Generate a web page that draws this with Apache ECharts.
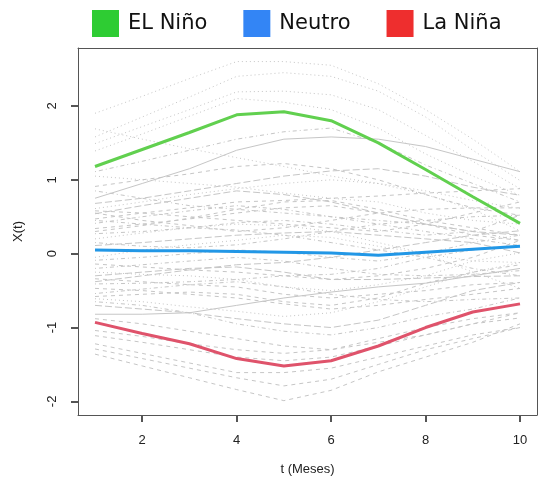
<!DOCTYPE html>
<html>
<head>
<meta charset="utf-8">
<script src="https://cdn.jsdelivr.net/npm/echarts@6/dist/echarts.min.js"></script>
<style>
  html, body { margin: 0; padding: 0; background: #fff; }
  #chart { width: 539px; height: 482px; }
</style>
</head>
<body>
<div id="chart"></div>
<script>
// Meses observados
const tiempo = [1, 2, 3, 4, 5, 6, 7, 8, 9, 10];

// Trayectorias medias por fase ENSO
const nino   = [1.18, 1.41, 1.64, 1.88, 1.92, 1.80, 1.50, 1.14, 0.77, 0.41];
const neutro = [0.05, 0.04, 0.04, 0.03, 0.02, 0.01, -0.02, 0.02, 0.06, 0.10];
const nina   = [-0.93, -1.08, -1.22, -1.42, -1.52, -1.45, -1.25, -1.00, -0.79, -0.68];

// Trayectorias individuales (fondo gris)
const trayectorias = [
  [1.90, 2.13, 2.37, 2.60, 2.60, 2.55, 2.30, 1.95, 1.55, 1.11],
  [1.58, 1.85, 2.12, 2.40, 2.45, 2.40, 2.20, 1.85, 1.40, 0.99],
  [1.49, 1.72, 1.95, 2.19, 2.20, 2.15, 1.95, 1.60, 1.25, 0.88],
  [1.39, 1.62, 1.86, 2.10, 2.05, 1.95, 1.70, 1.35, 1.05, 0.79],
  [1.69, 1.55, 1.42, 1.30, 1.18, 1.05, 0.95, 0.85, 0.72, 0.61],
  [1.11, 1.25, 1.40, 1.55, 1.65, 1.70, 1.50, 1.20, 0.95, 0.70],
  [0.91, 1.00, 1.08, 1.18, 1.22, 1.15, 1.00, 0.80, 0.62, 0.52],
  [0.75, 0.95, 1.15, 1.40, 1.55, 1.58, 1.55, 1.45, 1.28, 1.11],
  [0.61, 0.70, 0.80, 0.88, 0.95, 1.00, 0.95, 0.80, 0.60, 0.31],
  [0.54, 0.65, 0.75, 0.85, 0.80, 0.70, 0.55, 0.40, 0.30, 0.25],
  [0.47, 0.55, 0.62, 0.70, 0.72, 0.75, 0.78, 0.82, 0.85, 0.88],
  [0.41, 0.50, 0.58, 0.65, 0.60, 0.50, 0.40, 0.30, 0.20, 0.11],
  [0.34, 0.40, 0.47, 0.55, 0.62, 0.65, 0.55, 0.40, 0.25, 0.18],
  [0.27, 0.30, 0.35, 0.42, 0.45, 0.40, 0.32, 0.25, 0.30, 0.52],
  [0.20, 0.28, 0.35, 0.40, 0.38, 0.30, 0.15, 0.00, -0.10, -0.12],
  [0.11, 0.15, 0.20, 0.25, 0.28, 0.30, 0.25, 0.20, 0.15, 0.01],
  [0.58, 0.55, 0.50, 0.45, 0.40, 0.35, 0.30, 0.40, 0.55, 0.70],
  [-0.09, -0.05, 0.00, 0.05, 0.02, -0.05, -0.10, 0.00, 0.15, 0.25],
  [-0.14, -0.18, -0.22, -0.25, -0.30, -0.35, -0.30, -0.20, -0.05, 0.18],
  [-0.20, -0.15, -0.10, -0.05, -0.10, -0.20, -0.28, -0.30, -0.28, -0.23],
  [-0.25, -0.28, -0.30, -0.35, -0.45, -0.50, -0.42, -0.30, -0.10, 0.01],
  [-0.30, -0.25, -0.20, -0.18, -0.25, -0.35, -0.35, -0.33, -0.31, -0.30],
  [-0.34, -0.38, -0.42, -0.45, -0.55, -0.60, -0.55, -0.50, -0.42, -0.39],
  [-0.41, -0.40, -0.38, -0.35, -0.30, -0.28, -0.20, -0.05, 0.05, 0.11],
  [-0.47, -0.50, -0.55, -0.60, -0.68, -0.75, -0.70, -0.62, -0.55, -0.47],
  [-0.54, -0.48, -0.42, -0.38, -0.45, -0.55, -0.62, -0.65, -0.62, -0.60],
  [-0.61, -0.65, -0.72, -0.78, -0.85, -0.80, -0.65, -0.45, -0.25, -0.12],
  [-0.70, -0.75, -0.80, -0.88, -0.95, -1.00, -0.90, -0.70, -0.50, -0.39],
  [-0.82, -0.82, -0.80, -0.70, -0.60, -0.52, -0.45, -0.40, -0.30, -0.20],
  [-1.04, -1.12, -1.22, -1.30, -1.35, -1.30, -1.15, -1.00, -0.88, -0.80],
  [-1.11, -1.20, -1.30, -1.40, -1.45, -1.40, -1.25, -1.10, -0.95, -0.87],
  [-1.22, -1.35, -1.48, -1.61, -1.61, -1.55, -1.40, -1.25, -1.10, -1.00],
  [-1.29, -1.42, -1.55, -1.68, -1.79, -1.70, -1.50, -1.30, -1.15, -1.00],
  [-1.36, -1.52, -1.68, -1.84, -1.99, -1.85, -1.60, -1.40, -1.20, -0.95],
  [0.55, 0.45, 0.38, 0.30, 0.35, 0.45, 0.55, 0.60, 0.62, 0.62],
  [0.45, 0.40, 0.35, 0.32, 0.25, 0.15, 0.05, -0.05, -0.20, -0.30],
  [0.30, 0.38, 0.48, 0.60, 0.70, 0.72, 0.60, 0.45, 0.35, 0.25],
  [0.15, 0.10, 0.08, 0.12, 0.20, 0.30, 0.40, 0.45, 0.50, 0.52],
  [-0.05, 0.05, 0.12, 0.18, 0.25, 0.22, 0.10, 0.00, -0.25, -0.47],
  [-0.38, -0.30, -0.22, -0.15, -0.12, -0.05, 0.05, 0.15, 0.25, 0.31],
  [-0.58, -0.55, -0.52, -0.55, -0.65, -0.70, -0.60, -0.40, -0.25, -0.15],
  [-0.65, -0.70, -0.80, -0.95, -1.05, -1.10, -1.00, -0.85, -0.75, -0.60],
  [-0.88, -0.95, -1.05, -1.15, -1.25, -1.30, -1.20, -1.10, -0.95, -0.80],
  [0.85, 0.75, 0.65, 0.60, 0.55, 0.50, 0.45, 0.40, 0.30, 0.18],
  [1.05, 1.00, 0.95, 0.90, 0.82, 0.75, 0.70, 0.55, 0.45, 0.40],
  [0.68, 0.75, 0.85, 0.95, 1.05, 1.12, 1.15, 1.05, 0.90, 0.79]
];

const ticksX = [2, 4, 6, 8, 10];
const ticksY = [-2, -1, 0, 1, 2];

// R-like line types: dashed, dotdash, dotted, longdash
const tiposLinea = [[4, 4], [1, 3, 4, 3], [1, 3], [7, 3], [4, 4], [1, 3, 4, 3]];
const trazoContinuo = [7, 28];
function tipoPara(vals, i) {
  if (trazoContinuo.includes(i)) return 'solid';
  if (vals[0] > 1.3 || vals[3] > 1.8) return [1, 3];
  if (vals[0] < -0.95) return [4, 4];
  return tiposLinea[i % tiposLinea.length];
}

const pares = v => tiempo.map((t, i) => [t, v[i]]);

const fondo = trayectorias.map((v, i) => ({
  type: 'line',
  name: 'tray' + i,
  data: pares(v),
  symbol: 'none',
  silent: true,
  z: 1,
  lineStyle: { color: '#c6c6c6', width: 1, type: tipoPara(v, i) }
}));

const principal = (name, data, color) => ({
  type: 'line',
  name,
  data: pares(data),
  symbol: 'none',
  z: 5,
  color,
  lineStyle: { color, width: 3 }
});

const rangoX = { min: 0.64, max: 10.36 };
const rangoY = { min: -2.184, max: 2.784 };
const ejeTexto = { fontFamily: 'Liberation Sans', fontSize: 13, color: '#222' };
const lineaEje = () => ({ show: true, onZero: false, lineStyle: { color: '#555', width: 1 } });
const marcaEje = vals => ({ show: true, length: 7, customValues: vals, lineStyle: { color: '#555', width: 2 } });

// Plain axis used only to close the box on the opposite side
const borde = (pos, rango) => Object.assign({
  type: 'value', position: pos,
  axisLine: lineaEje(), axisTick: { show: false }, axisLabel: { show: false }, splitLine: { show: false }
}, rango);

const chart = echarts.init(document.getElementById('chart'), null, { renderer: 'canvas' });
chart.setOption({
  animation: false,
  backgroundColor: '#fff',
  legend: {
    left: 92,
    top: 10,
    padding: 0,
    icon: 'rect',
    itemWidth: 27,
    itemHeight: 27,
    itemGap: 36,
    selectedMode: false,
    textStyle: { fontFamily: 'DejaVu Sans', fontSize: 21, color: '#111', padding: [0, 0, 0, 4] },
    data: [
      { name: 'EL Niño', itemStyle: { color: '#2ECC33' } },
      { name: 'Neutro', itemStyle: { color: '#3385F5' } },
      { name: 'La Niña', itemStyle: { color: '#EE2E2E' } }
    ]
  },
  grid: { left: 78, right: 2, top: 48, bottom: 67 },
  xAxis: [
    Object.assign({
      type: 'value',
      position: 'bottom',
      name: 't (Meses)',
      nameLocation: 'middle',
      nameGap: 48,
      nameTextStyle: ejeTexto,
      splitLine: { show: false },
      axisLine: lineaEje(),
      axisTick: marcaEje(ticksX),
      axisLabel: Object.assign({ customValues: ticksX, margin: 19 }, ejeTexto)
    }, rangoX),
    borde('top', rangoX)
  ],
  yAxis: [
    Object.assign({
      type: 'value',
      position: 'left',
      name: 'X(t)',
      nameLocation: 'middle',
      nameGap: 53,
      nameRotate: 90,
      nameTextStyle: ejeTexto,
      splitLine: { show: false },
      axisLine: lineaEje(),
      axisTick: marcaEje(ticksY),
      axisLabel: Object.assign({ customValues: ticksY, rotate: 90, margin: 19 }, ejeTexto)
    }, rangoY),
    borde('right', rangoY)
  ],
  series: [
    ...fondo,
    principal('EL Niño', nino, '#61D04F'),
    principal('Neutro', neutro, '#2297E6'),
    principal('La Niña', nina, '#DF536B')
  ]
});
</script>
</body>
</html>
